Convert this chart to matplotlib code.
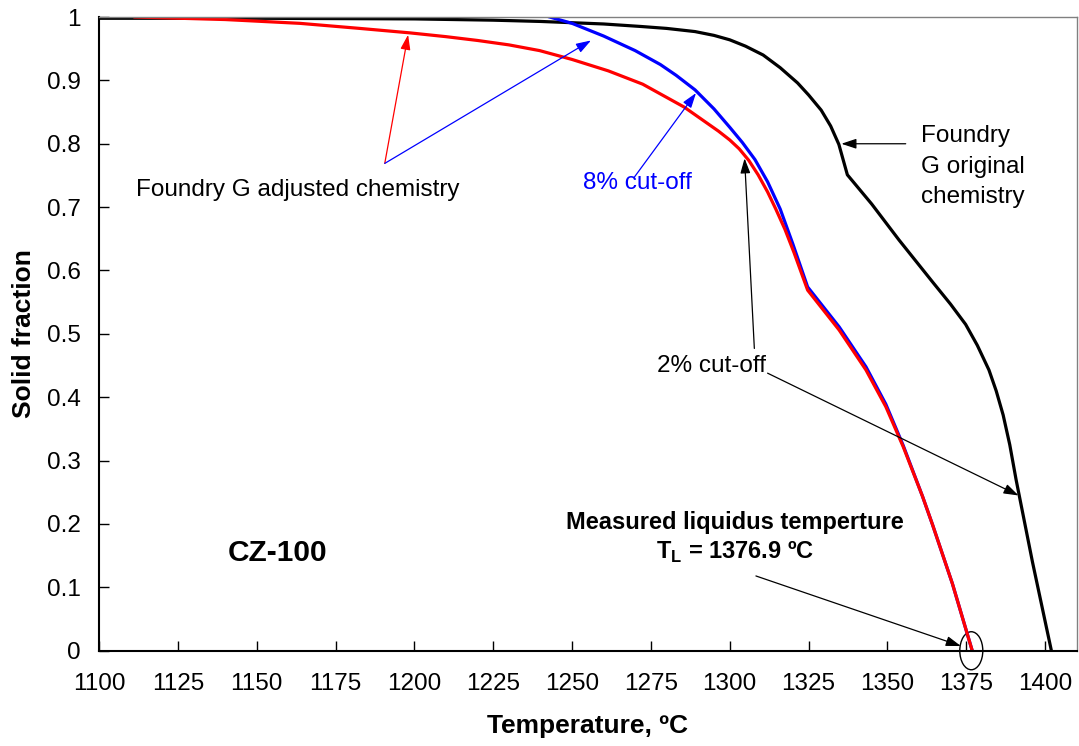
import matplotlib.pyplot as plt
from matplotlib.patches import Ellipse

plt.rcParams['font.family'] = ['Liberation Sans', 'DejaVu Sans']

# original chemistry (black)
t_orig = [1100, 1150, 1200, 1225, 1240, 1260, 1272, 1280, 1289, 1295, 1300, 1305,
          1310.6, 1316, 1321.5, 1325, 1329, 1332, 1334.6, 1337.3, 1345, 1353.7,
          1364.3, 1370, 1374.8, 1378.5, 1382.2, 1384.5, 1386.7, 1388.8, 1390.8,
          1396, 1402]
fs_orig = [0.998, 0.998, 0.997, 0.995, 0.993, 0.989, 0.985, 0.982, 0.977, 0.971, 0.964, 0.954,
           0.940, 0.920, 0.896, 0.877, 0.853, 0.828, 0.799, 0.751, 0.705, 0.648,
           0.582, 0.547, 0.515, 0.482, 0.443, 0.41, 0.372, 0.325, 0.27,
           0.14, 0.0]

# adjusted chemistry, 2% cut-off (red)
t_2pct = [1111.4, 1140, 1163.7, 1182.7, 1198.5, 1210, 1220, 1230, 1239.7, 1250, 1261.5,
          1272.4, 1285.5, 1296.4, 1300, 1303, 1306, 1309, 1312, 1314.6, 1317.5, 1320.4,
          1324.7, 1334.7, 1343.2, 1349.5, 1355, 1361.1, 1364.3, 1370.6, 1376.9]
fs_2pct = [1.0, 0.996, 0.99, 0.982, 0.975, 0.969, 0.963, 0.956, 0.947, 0.933, 0.915,
           0.894, 0.858, 0.82, 0.806, 0.792, 0.774, 0.751, 0.724, 0.697, 0.665, 0.628,
           0.569, 0.506, 0.443, 0.385, 0.322, 0.244, 0.199, 0.106, 0.0]

# adjusted chemistry, 8% cut-off (blue)
t_8pct = [1242.9, 1250, 1260, 1270, 1278, 1283, 1289, 1295, 1300, 1304, 1308, 1312,
          1316, 1320, 1324.7, 1334.7, 1343.2, 1349.5, 1355, 1361.1, 1364.3, 1370.6,
          1376.9]
fs_8pct = [1.0, 0.99, 0.97, 0.947, 0.925, 0.908, 0.885, 0.855, 0.826, 0.802, 0.775, 0.74,
           0.697, 0.642, 0.574, 0.511, 0.448, 0.389, 0.324, 0.244, 0.199, 0.106,
           0.0]

x_ticks = list(range(1100, 1401, 25))
y_ticks = [0, 0.1, 0.2, 0.3, 0.4, 0.5, 0.6, 0.7, 0.8, 0.9, 1]
y_labels = ['0', '0.1', '0.2', '0.3', '0.4', '0.5', '0.6', '0.7', '0.8', '0.9', '1']

t_liquidus = 1376.9

fig = plt.figure(figsize=(10.79, 7.46), dpi=100)
ax = fig.add_axes([0.0918, 0.1277, 0.906, 0.8495])

ax.plot(t_orig, fs_orig, color='black', lw=2.3)
ax.plot(t_8pct, fs_8pct, color='#0000ff', lw=2.3)
ax.plot(t_2pct, fs_2pct, color='#ff0000', lw=2.3)

ax.set_xlim(1100, 1410)
ax.set_ylim(0, 1)
ax.set_xticks(x_ticks)
ax.set_yticks(y_ticks)
ax.set_yticklabels(y_labels)
ax.tick_params(axis='both', direction='in', length=7, width=1, labelsize=17.5)
ax.tick_params(axis='x', pad=16)
ax.tick_params(axis='y', pad=13)
for s in ['left', 'bottom']:
    ax.spines[s].set_linewidth(1.5)
    ax.spines[s].set_color('black')
for s in ['top', 'right']:
    ax.spines[s].set_linewidth(1)
    ax.spines[s].set_color('#808080')

ax.set_xlabel('Temperature, ºC', fontsize=19, fontweight='bold', labelpad=14)
ax.set_ylabel('Solid fraction', fontsize=19, fontweight='bold', labelpad=8)


def arrow(tip, tail, color='black'):
    ax.annotate('', xy=tip, xytext=tail,
                arrowprops=dict(arrowstyle='-|>,head_length=0.45,head_width=0.15',
                                mutation_scale=20, color=color, lw=0.9,
                                shrinkA=0, shrinkB=0))


# labels and pointers
ax.text(1163, 0.727, 'Foundry G adjusted chemistry', fontsize=17.5,
        ha='center', va='center')
arrow((1198, 0.972), (1190.6, 0.769), 'red')
arrow((1256, 0.963), (1190.6, 0.769), 'blue')

ax.text(1270.7, 0.738, '8% cut-off', fontsize=17.5, color='blue',
        ha='center', va='center')
arrow((1289.3, 0.880), (1269.7, 0.747), 'blue')

ax.text(1294.2, 0.449, '2% cut-off', fontsize=17.5, ha='center', va='center')
arrow((1304.7, 0.777), (1307.8, 0.477))
arrow((1391.6, 0.245), (1312, 0.438))

ax.text(1360.7, 0.764, 'Foundry\nG original\nchemistry', fontsize=17.5,
        ha='left', va='center', linespacing=1.5)
arrow((1335.4, 0.80), (1355.8, 0.80))

ax.text(1156.7, 0.154, 'CZ-100', fontsize=21.5, fontweight='bold',
        ha='center', va='center')

ax.text(1301.7, 0.203, 'Measured liquidus temperture', fontsize=17,
        fontweight='bold', ha='center', va='center')
ax.text(1301.7, 0.155, 'T$_\\mathregular{L}$ = %.1f ºC' % t_liquidus, fontsize=17,
        fontweight='bold', ha='center', va='center')
arrow((1373.3, 0.0074), (1308.3, 0.118))
ax.add_patch(Ellipse((1376.6, 0.0), 7.3, 0.06, fill=False, ec='black',
                     lw=1, clip_on=False))

fig.savefig('out.png', dpi=100)
